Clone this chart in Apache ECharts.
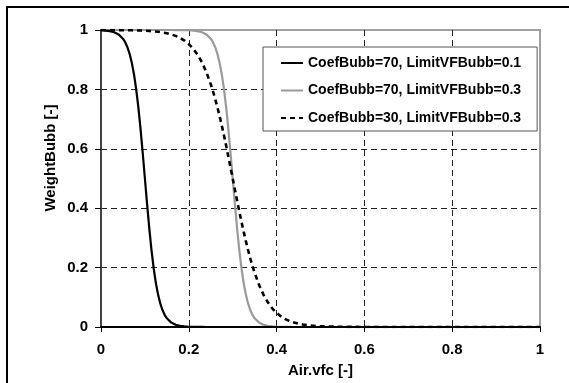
<!DOCTYPE html>
<html>
<head>
<meta charset="utf-8">
<script src="https://cdn.jsdelivr.net/npm/echarts@6/dist/echarts.min.js"></script>
<style>
html,body{margin:0;padding:0;background:#fff;overflow:hidden;}
#wrap{position:relative;width:569px;height:383px;}
#chart{position:absolute;left:0;top:0;width:569px;height:383px;}
#frame{position:absolute;left:6px;top:6px;width:563px;height:377px;border-left:2px solid #000;border-top:2px solid #000;box-sizing:border-box;pointer-events:none;}
</style>
</head>
<body>
<div id="wrap"><div id="chart"></div><div id="frame"></div></div>
<script>
var xBlack = [0,0.01,0.02,0.03,0.04,0.05,0.055,0.06,0.065,0.07,0.075,0.08,0.085,0.09,0.095,0.10,0.105,0.11,0.115,0.12,0.125,0.13,0.135,0.14,0.145,0.15,0.16,0.17,0.18,0.19,0.20,0.21,0.22,0.23,0.24,0.3,0.5,1.0];
var yBlack = [0.9991,0.9982,0.9963,0.9926,0.9852,0.9707,0.9589,0.9427,0.9206,0.8909,0.8520,0.8022,0.7408,0.6682,0.5866,0.5,0.4134,0.3318,0.2592,0.1978,0.1480,0.1091,0.0794,0.0573,0.0411,0.0293,0.0148,0.0074,0.0037,0.0018,0.0009,0.0005,0.0002,0.0001,0,0,0,0];
var xGray = [0,0.1,0.15,0.16,0.17,0.18,0.19,0.20,0.21,0.22,0.23,0.24,0.25,0.255,0.26,0.265,0.27,0.275,0.28,0.285,0.29,0.295,0.30,0.305,0.31,0.315,0.32,0.325,0.33,0.335,0.34,0.345,0.35,0.36,0.37,0.38,0.39,0.40,0.41,0.42,0.43,0.44,0.5,1.0];
var yGray = [1,1,1,1,0.9999,0.9998,0.9995,0.9991,0.9982,0.9963,0.9926,0.9852,0.9707,0.9589,0.9427,0.9206,0.8909,0.8520,0.8022,0.7408,0.6682,0.5866,0.5,0.4134,0.3318,0.2592,0.1978,0.1480,0.1091,0.0794,0.0573,0.0411,0.0293,0.0148,0.0074,0.0037,0.0018,0.0009,0.0005,0.0002,0.0001,0,0,0];
var xDash = [0,0.01,0.02,0.03,0.04,0.05,0.06,0.07,0.08,0.09,0.10,0.11,0.12,0.13,0.14,0.15,0.16,0.17,0.18,0.19,0.20,0.21,0.22,0.23,0.24,0.25,0.255,0.26,0.265,0.27,0.275,0.28,0.285,0.29,0.295,0.30,0.305,0.31,0.315,0.32,0.325,0.33,0.335,0.34,0.345,0.35,0.36,0.37,0.38,0.39,0.40,0.41,0.42,0.43,0.44,0.45,0.46,0.47,0.48,0.49,0.50,0.55,0.60,0.70,1.00];
var yDash = [0.9999,0.9998,0.9998,0.9997,0.9996,0.9994,0.9993,0.9990,0.9986,0.9982,0.9975,0.9967,0.9955,0.9939,0.9918,0.9890,0.9852,0.9802,0.9734,0.9644,0.9526,0.9370,0.9168,0.8909,0.8581,0.8176,0.7941,0.7685,0.7408,0.7109,0.6792,0.6457,0.6107,0.5744,0.5374,0.5,0.4626,0.4256,0.3893,0.3543,0.3208,0.2891,0.2592,0.2315,0.2059,0.1824,0.1419,0.1091,0.0832,0.0630,0.0474,0.0356,0.0266,0.0198,0.0148,0.0110,0.0082,0.0061,0.0045,0.0033,0.0025,0.0006,0.0001,0,0];
var seriesNames = ['CoefBubb=70, LimitVFBubb=0.1','CoefBubb=70, LimitVFBubb=0.3','CoefBubb=30, LimitVFBubb=0.3'];
var xTicks = [0,0.2,0.4,0.6,0.8,1];
var yTicks = [0,0.2,0.4,0.6,0.8,1];
var xTitle = 'Air.vfc [-]';
var yTitle = 'WeightBubb [-]';

function pairs(xs, ys){ return xs.map(function(x,i){ return [x, ys[i]]; }); }
var FONT = '"Liberation Sans", Arial, sans-serif';
var gridColors = ['rgba(0,0,0,0)','#222','#222','#222','#222','rgba(0,0,0,0)'];

var chart = echarts.init(document.getElementById('chart'), null, {renderer:'canvas'});
chart.setOption({
  animation:false,
  backgroundColor:'#fff',
  grid:{left:101,right:29,top:30,bottom:52,show:true,borderColor:'#a0a0a0',borderWidth:2,backgroundColor:'transparent'},
  xAxis:{
    type:'value',min:xTicks[0],max:xTicks[xTicks.length-1],interval:0.2,
    name:xTitle,nameLocation:'middle',nameGap:36,
    nameTextStyle:{fontFamily:FONT,fontWeight:'bold',fontSize:15,color:'#000'},
    axisLine:{show:true,onZero:false,lineStyle:{color:'#000',width:2}},
    axisTick:{show:true,length:5,lineStyle:{color:'#000',width:1}},
    axisLabel:{margin:15,fontFamily:FONT,fontWeight:'bold',fontSize:15,color:'#000',
      formatter:function(v){return String(Math.round(v*10)/10);}},
    splitLine:{show:true,lineStyle:{color:gridColors,type:[6,4],width:1}}
  },
  yAxis:{
    type:'value',min:yTicks[0],max:yTicks[yTicks.length-1],interval:0.2,
    axisLine:{show:true,onZero:false,lineStyle:{color:'#444',width:2}},
    axisTick:{show:true,length:6,lineStyle:{color:'#000',width:1}},
    axisLabel:{margin:13,fontFamily:FONT,fontWeight:'bold',fontSize:15,color:'#000',
      formatter:function(v){return String(Math.round(v*10)/10);}},
    splitLine:{show:true,lineStyle:{color:gridColors,type:[6,4],width:1}}
  },
  legend:{
    show:true,orient:'vertical',left:263,top:47,
    backgroundColor:'#fff',borderColor:'#555',borderWidth:1,
    padding:[9,16,6,17],itemGap:13.5,itemWidth:22,itemHeight:14,
    selectedMode:false,
    itemStyle:{opacity:0,borderWidth:0},
    textStyle:{fontFamily:FONT,fontWeight:'bold',fontSize:14,color:'#000',lineHeight:14},
    data:seriesNames
  },
  graphic:[
    {type:'text',x:51,y:158,rotation:Math.PI/2,style:{text:yTitle,fontFamily:FONT,fontWeight:'bold',fontSize:15,fill:'#000',align:'center',verticalAlign:'middle'},silent:true}
  ],
  series:[
    {name:seriesNames[0],type:'line',data:pairs(xBlack,yBlack),symbol:'none',
      lineStyle:{color:'#000',width:2.2},itemStyle:{color:'#000'},z:5},
    {name:seriesNames[1],type:'line',data:pairs(xGray,yGray),symbol:'none',
      lineStyle:{color:'#9a9a9a',width:2.2},itemStyle:{color:'#9a9a9a'},z:3},
    {name:seriesNames[2],type:'line',data:pairs(xDash,yDash),symbol:'none',
      lineStyle:{color:'#000',width:2.6,type:[5,4]},itemStyle:{color:'#000'},z:4}
  ]
});
</script>
</body>
</html>
